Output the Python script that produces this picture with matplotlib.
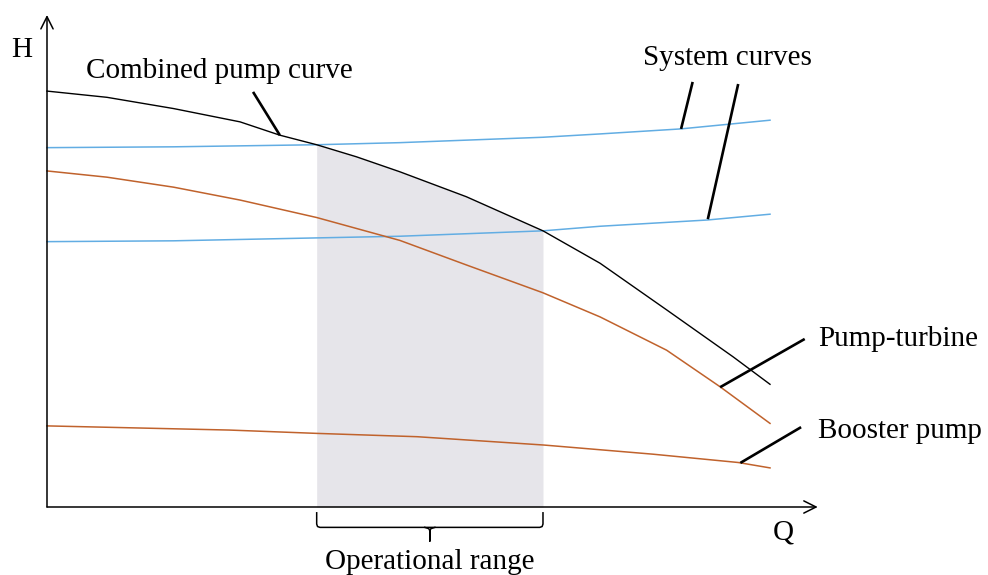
'''
Schematic H-Q chart: combined pump curve, pump-turbine, booster pump
and two system curves, with the operational range shaded.
'''

import numpy as np
import matplotlib.pyplot as plt

plt.rcParams['font.family'] = ['Liberation Serif', 'DejaVu Serif']

# Flow Q (0..100) and head H (0..100)
combined_q = np.array([0, 8.3, 17.5, 26.7, 32.2, 37.3, 42.8, 48.8, 58.0, 68.6,
                       76.5, 85.7, 94.9, 100])
combined_h = np.array([100, 98.5, 95.8, 92.6, 89.4, 87.1, 84.2, 80.6, 74.6, 66.4,
                       58.6, 47.4, 36.1, 29.5])

turbine_q = np.array([0, 8.3, 17.5, 26.7, 37.3, 48.8, 58.0, 68.6, 76.5, 85.7, 93.1, 100])
turbine_h = np.array([80.8, 79.3, 76.9, 73.8, 69.6, 64.1, 58.2, 51.5, 45.7, 37.7, 28.9, 20.1])

booster_q = np.array([0, 25.2, 37.3, 51.2, 68.7, 83.8, 95.6, 100])
booster_h = np.array([19.5, 18.5, 17.7, 16.9, 14.9, 12.7, 10.7, 9.4])

system_hi_q = np.array([0, 17.5, 37.3, 48.8, 68.6, 76.5, 87.6, 100])
system_hi_h = np.array([86.4, 86.6, 87.1, 87.6, 88.9, 89.7, 90.9, 93.0])

system_lo_q = np.array([0, 17.5, 37.3, 48.8, 68.6, 76.5, 91.3, 100])
system_lo_h = np.array([63.8, 64.0, 64.7, 65.1, 66.4, 67.5, 69.0, 70.4])

# operating points: combined curve meets the two system curves
op_range = (37.3, 68.6)

blue = '#62ade3'
brown = '#c0622c'
grey = '#e6e5ea'
fs = 21

fig = plt.figure(figsize=(9.88, 5.75), dpi=100)
ax = fig.add_axes([0, 0, 1, 1])
ax.set_xlim(-6.5, 130.15)
ax.set_ylim(-16.35, 121.9)
ax.axis('off')

# shaded operational range under the combined curve
mask = (combined_q >= op_range[0]) & (combined_q <= op_range[1])
ax.fill_between(combined_q[mask], 0, combined_h[mask], color=grey, lw=0, zorder=1)

ax.plot(system_hi_q, system_hi_h, color=blue, lw=1.1, zorder=2)
ax.plot(system_lo_q, system_lo_h, color=blue, lw=1.1, zorder=2)
ax.plot(turbine_q, turbine_h, color=brown, lw=1.1, zorder=2)
ax.plot(booster_q, booster_h, color=brown, lw=1.1, zorder=2)
ax.plot(combined_q, combined_h, color='black', lw=1.0, zorder=3)

# axes with open arrow heads
arrow = dict(arrowstyle='->', lw=1.1, color='black', mutation_scale=22, shrinkA=0, shrinkB=0)
ax.annotate('', xy=(106.6, 0), xytext=(0, 0), arrowprops=arrow)
ax.annotate('', xy=(0, 118.3), xytext=(0, 0), arrowprops=arrow)
ax.text(-3.5, 109.9, 'H', fontsize=fs, ha='center', va='center')
ax.text(101.9, -7.7, 'Q', fontsize=fs, ha='center', va='baseline')

# leader lines and labels
leaders = [
    ((28.5, 32.2), (99.8, 89.4)),
    ((89.3, 87.7), (102.2, 90.9)),
    ((95.6, 91.4), (101.7, 69.2)),
    ((104.8, 93.1), (40.4, 28.8)),
    ((104.3, 95.9), (19.2, 10.6)),
]
for lq, lh in leaders:
    ax.plot(lq, lh, color='black', lw=1.9, solid_capstyle='butt', zorder=4)

ax.text(23.9, 103.1, 'Combined pump curve', fontsize=fs, ha='center', va='baseline')
ax.text(94.1, 106.25, 'System curves', fontsize=fs, ha='center', va='baseline')
ax.text(106.6, 38.7, 'Pump-turbine', fontsize=fs, ha='left', va='baseline')
ax.text(106.6, 16.6, 'Booster pump', fontsize=fs, ha='left', va='baseline')

# brace under the operational range
q0, q1 = op_range
qm = (q0 + q1) / 2
top, mid, tip = -1.4, -4.9, -8.2
ax.plot([q0, q0, q0 + 0.12, q0 + 0.45, q1 - 0.45, q1 - 0.12, q1, q1],
        [top, mid + 0.8, mid + 0.2, mid, mid, mid + 0.2, mid + 0.8, top],
        color='black', lw=1.1)
ax.plot([qm - 0.7, qm - 0.15, qm, qm, qm, qm + 0.15, qm + 0.7],
        [mid, mid - 0.3, mid - 0.8, tip, mid - 0.8, mid - 0.3, mid],
        color='black', lw=1.1)
ax.text(qm, -14.9, 'Operational range', fontsize=fs, ha='center', va='baseline')

fig.savefig('out.png', dpi=100)
